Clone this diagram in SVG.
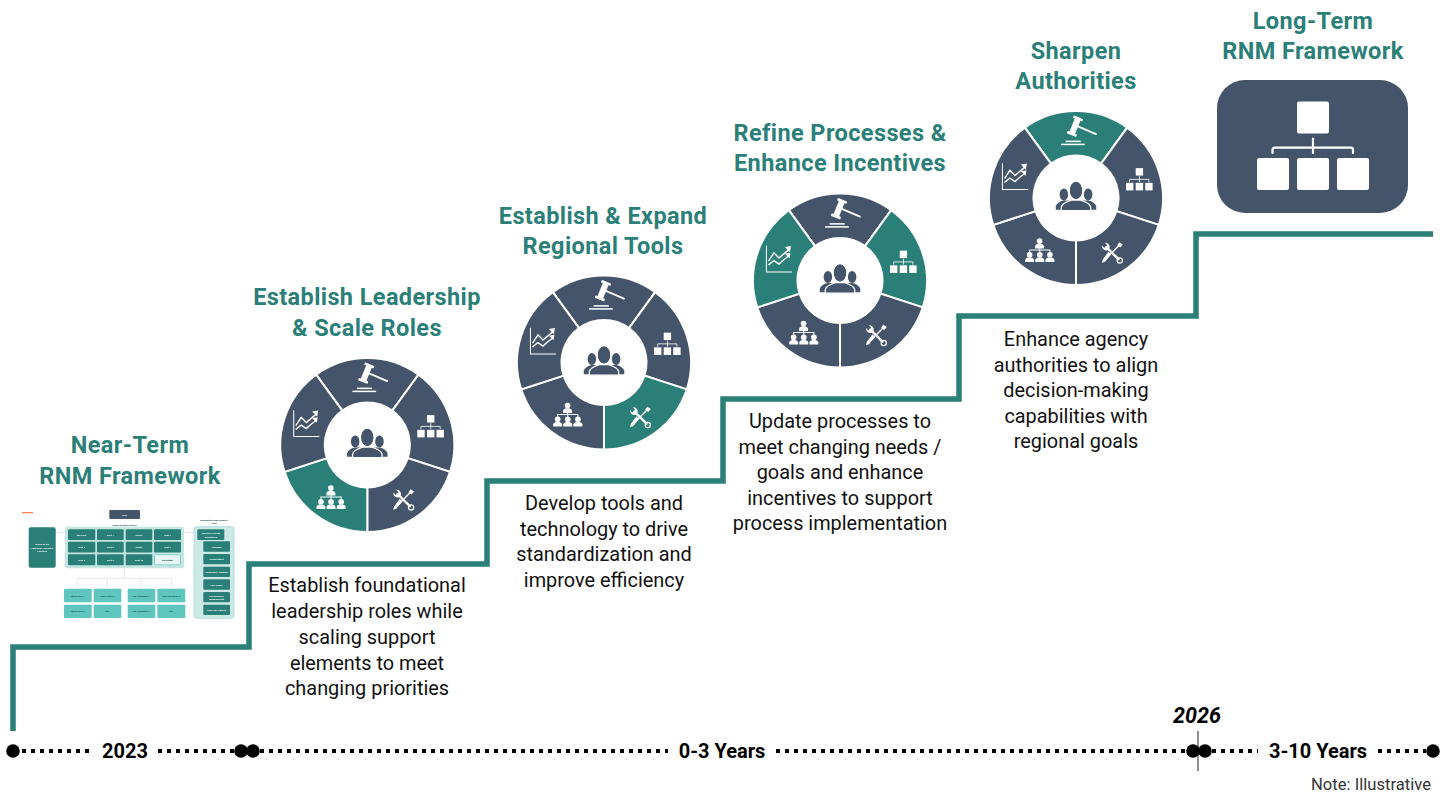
<svg xmlns="http://www.w3.org/2000/svg" xmlns:xlink="http://www.w3.org/1999/xlink" width="1449" height="793" viewBox="0 0 1449 793">
<style>
text{font-family:Roboto,"Liberation Sans",sans-serif;text-anchor:middle}
.title{font-size:23.5px;font-weight:700;fill:#2A7F78;letter-spacing:.4px}
.body{font-size:19.9px;fill:#111}
.time{font-size:20px;font-weight:700;fill:#000}
.navy{fill:#44546A}.teal{fill:#2A7F78}
.seg{stroke:#fff;stroke-width:2}
.dots{stroke:#000;stroke-width:4;stroke-dasharray:4 5;fill:none}
.ic{fill:#fff}.icl{stroke:#fff;fill:none;stroke-linecap:round}
.tc{fill:#2A7F78}.tb{fill:#5EC6BF}
.tt{font-size:2.5px;font-weight:700;fill:#fff}
.td{font-size:2.5px;font-weight:700;fill:#1f4a47}
.tl{stroke:#ddd;stroke-width:.7;fill:none}
</style>
<defs>
<filter id="soft" x="-5%" y="-5%" width="110%" height="110%"><feGaussianBlur stdDeviation="0.4"/></filter>
<path id="seg-top" class="seg" d="M-50.55-69.57A86 86 0 0 1 50.55-69.57L24.69-33.98A42 42 0 0 0-24.69-33.98Z"/>
<path id="seg-right" class="seg" d="M50.55-69.57A86 86 0 0 1 81.79 26.58L39.94 12.98A42 42 0 0 0 24.69-33.98Z"/>
<path id="seg-br" class="seg" d="M81.79 26.58A86 86 0 0 1 0 86L0 42A42 42 0 0 0 39.94 12.98Z"/>
<path id="seg-bl" class="seg" d="M0 86A86 86 0 0 1-81.79 26.58L-39.94 12.98A42 42 0 0 0 0 42Z"/>
<path id="seg-left" class="seg" d="M-81.79 26.58A86 86 0 0 1-50.55-69.57L-24.69-33.98A42 42 0 0 0-39.94 12.98Z"/>
<g id="person"><circle cx="0" cy="-3.2" r="2.8"/><path d="M-4.4 4V1.8Q-4.4 0-1.6-.6H1.6Q4.4 0 4.4 1.8V4Z"/></g>
<g id="wheel-icons">
<g transform="translate(-1,-71) rotate(22)" class="ic"><rect x="-3" y="-7.5" width="6" height="15"/><rect x="-5" y="-9.5" width="10" height="2.6" rx=".6"/><rect x="-5" y="6.9" width="10" height="2.6" rx=".6"/></g>
<path class="icl" stroke-width="1.9" d="M1.3-71 19.7-63.2"/>
<rect class="ic" x="-10.3" y="-56.7" width="15" height="1.5"/><rect class="ic" x="-14.7" y="-53.7" width="23.4" height="1.5"/>
<g class="ic"><rect x="59" y="-29.5" width="7.3" height="7.3"/><rect x="49.4" y="-15" width="7.3" height="7.5"/><rect x="59" y="-15" width="7.3" height="7.5"/><rect x="68.4" y="-15" width="7.3" height="7.5"/></g>
<path class="icl" stroke-width=".8" d="M53-16V-18.4H72V-16M62.7-21.5V-16"/>
<g transform="translate(35.5,54) scale(.86)">
<path class="icl" stroke-width="2.8" stroke-linecap="butt" d="M-6.5-6.5 7.5 7.5"/>
<path class="ic" d="M-11.5-8.2A5.4 5.4 0 0 0-5.5-2.5L-2.5-5.5A5.4 5.4 0 0 0-8.2-11.5L-5.6-8.8-6.2-6.2-8.8-5.6Z"/>
<circle cx="9" cy="9" r="3" fill="none" stroke="#fff" stroke-width="1.4"/>
<path class="icl" stroke-width="1.6" stroke-linecap="butt" d="M9-9-8.5 8.5"/>
<path class="ic" d="M6-8.5 8.5-12 12.5-9.5 9.5-6ZM-4-1-1 2-8 10.5-11.5 11.5-10.5 8Z"/>
</g>
<g class="ic"><use href="#person" x="-36" y="45.8"/><use href="#person" x="-45.8" y="59.3"/><use href="#person" x="-35.8" y="59.3"/><use href="#person" x="-25.8" y="59.3"/></g>
<path class="icl" stroke-width="1" d="M-45.8 54.5V51.5H-25.8V54.5M-35.8 49.5V54.5"/>
<path class="icl" stroke-width="1" stroke-linecap="butt" d="M-72.7-34V-8.4H-47.7"/>
<path class="icl" stroke-width="1.4" d="M-70.3-19.7-65.3-27.3-60.3-22.3-50.5-30.5M-70.3-15.7-65.3-19.7-60.3-16.3-55.3-20.7-51-24"/>
<path class="ic" d="M-54.5-33-48.5-34.2-49.5-28ZM-54.5-26.5-49-27.5-49.8-22Z"/>
<g class="navy"><ellipse cx="-12" cy="-3.5" rx="4.2" ry="6"/><ellipse cx="12" cy="-3.5" rx="4.2" ry="6"/>
<path d="M-20 11.5V8Q-19 4.5-12.5 2.5H-6V11.5ZM20 11.5V8Q19 4.5 12.5 2.5H6V11.5Z"/>
<g stroke="#fff" stroke-width="1.3"><ellipse cx="0" cy="-7.5" rx="6.6" ry="9"/><path d="M-14.5 12.5V9Q-14 5-4.5 2H4.5Q14 5 14.5 9V12.5Z"/></g><ellipse cx="0" cy="-7.5" rx="6" ry="8.4"/></g>
</g>
</defs>

<g id="connectors">
<path id="stair" fill="none" stroke="#2A7F78" stroke-width="5.5" d="M13 731V647H249V564H487V481H723V399H959V316H1196V234H1433"/>
<path class="dots" d="M22 751H92M158 751H236M260 751H668M776 751H1188M1212 751H1258M1378 751H1426"/>
<path d="M1198 731V771" stroke="#222" stroke-width="1" fill="none"/>
</g>

<g id="timeline">
<circle cx="13" cy="751" r="6.8"/><circle cx="241" cy="751" r="6.8"/><circle cx="253" cy="751" r="6.8"/><circle cx="1193" cy="751" r="6.8"/><circle cx="1205" cy="751" r="6.8"/><circle cx="1433" cy="751" r="6.8"/>
<text class="time" x="125" y="758">2023</text>
<text class="time" x="722" y="758">0-3 Years</text>
<text class="time" x="1318" y="758">3-10 Years</text>
<text x="1197" y="723" style="font-size:21.5px;font-weight:700;font-style:italic">2026</text>
<text x="1371" y="790" style="font-size:16.6px;fill:#333">Note: Illustrative</text>
</g>

<g id="near-term">
<text class="title" x="130" y="453">Near-Term</text><text class="title" x="130" y="484">RNM Framework</text>
<g filter="url(#soft)">
<rect x="22" y="512" width="11" height="1.2" fill="#F47B50"/>
<path class="tl" d="M55.7 532.5H65M184 532.5H194M124.3 568V578.3M77.7 588V578.3H171.7V588M107.3 578.3V588M141 578.3V588"/>
<rect x="109.3" y="510" width="30.7" height="9" rx="1.2" fill="#44546A"/><text class="tt" x="124.6" y="515.6">RPO</text>
<text class="td" x="124.5" y="526">RNM Executive Board</text>
<rect x="28.7" y="527.3" width="27" height="40.4" rx="2" class="tc"/>
<text class="tt" x="42.2" y="545">"Voice of the</text><text class="tt" x="42.2" y="548.5">Customer" Advisory</text><text class="tt" x="42.2" y="552">Function</text>
<rect x="65" y="526.7" width="119" height="41.6" rx="2" fill="#C5E5E2"/>
<g class="tc">
<rect x="68" y="529.3" width="27.3" height="10.7" rx="1"/><rect x="97" y="529.3" width="26.7" height="10.7" rx="1"/><rect x="125.7" y="529.3" width="26.6" height="10.7" rx="1"/><rect x="154" y="529.3" width="27" height="10.7" rx="1"/>
<rect x="68" y="541.7" width="27.3" height="10.7" rx="1"/><rect x="97" y="541.7" width="26.7" height="10.7" rx="1"/><rect x="125.7" y="541.7" width="26.6" height="10.7" rx="1"/><rect x="154" y="541.7" width="27" height="10.7" rx="1"/>
<rect x="68" y="554.3" width="27.3" height="11" rx="1"/><rect x="97" y="554.3" width="26.7" height="11" rx="1"/><rect x="125.7" y="554.3" width="26.6" height="11" rx="1"/>
</g>
<rect x="154.5" y="554.8" width="26" height="10" rx="1" fill="#E8F5F3" stroke="#5EC6BF" stroke-width=".7"/>
<text class="tt" x="81.6" y="535.5">DB Chair</text><text class="tt" x="110.3" y="535.5">Seat 1</text><text class="tt" x="139" y="535.5">Seat 2</text><text class="tt" x="167.5" y="535.5">Seat 3</text>
<text class="tt" x="81.6" y="548">Seat 4</text><text class="tt" x="110.3" y="548">Seat 5</text><text class="tt" x="139" y="548">Seat 6</text><text class="tt" x="167.5" y="548">Seat 7</text>
<text class="tt" x="81.6" y="560.5">Seat 8</text><text class="tt" x="110.3" y="560.5">Seat 9</text><text class="tt" x="139" y="560.5">Seat 10</text><text class="td" x="167.5" y="560.5">Facilitator</text>
<g class="tb">
<rect x="64" y="588.7" width="27.7" height="13.6" rx="1"/><rect x="93.7" y="588.7" width="27.6" height="13.6" rx="1"/><rect x="127.7" y="588.7" width="27.6" height="13.6" rx="1"/><rect x="157.3" y="588.7" width="28" height="13.6" rx="1"/>
<rect x="64" y="604.7" width="27.7" height="13.3" rx="1"/><rect x="93.7" y="604.7" width="27.6" height="13.3" rx="1"/><rect x="127.7" y="604.7" width="27.6" height="13.3" rx="1"/><rect x="157.3" y="604.7" width="28" height="13.3" rx="1"/>
</g>
<text class="td" x="77.8" y="596.5">Task Force 1</text><text class="td" x="107.5" y="596.5">Task Force 2</text><text class="td" x="141.5" y="596.5">Sub-Executive 1</text><text class="td" x="171.3" y="596.5">Sub-Executive 2</text>
<text class="td" x="77.8" y="612.3">Task Force 3</text><text class="td" x="107.5" y="612.3">Etc.</text><text class="td" x="141.5" y="612.3">Sub-Executive 3</text><text class="td" x="171.3" y="612.3">Etc.</text>
<text class="td" x="214" y="520.5">Dedicated RNM Support</text><text class="td" x="214" y="524">Staff</text>
<rect x="194" y="526.7" width="40" height="91.6" rx="3" fill="#CDE9E6" stroke="#9AD6D1" stroke-width=".7"/>
<g class="tc"><rect x="197.3" y="529.3" width="27" height="10.7" rx="1"/><rect x="203.3" y="541.3" width="26.7" height="10.4" rx="1"/><rect x="203.3" y="554" width="26.7" height="10.3" rx="1"/><rect x="203.3" y="566.7" width="26.7" height="10.3" rx="1"/><rect x="203.3" y="579.3" width="26.7" height="10.4" rx="1"/><rect x="203.3" y="592" width="26.7" height="10.3" rx="1"/><rect x="203.3" y="604.7" width="26.7" height="10.3" rx="1"/></g>
<text class="tt" x="210.8" y="534">Director of RNM</text><text class="tt" x="210.8" y="537.5">Operations</text>
<text class="tt" x="216.6" y="547.5">Planning</text><text class="tt" x="216.6" y="560">Engagement</text><text class="tt" x="216.6" y="572.8">Financials / Funding</text><text class="tt" x="216.6" y="585.5">Fare Policy</text>
<text class="tt" x="216.6" y="596.5">Performance</text><text class="tt" x="216.6" y="600">Management</text><text class="tt" x="216.6" y="610.8">Land Use Liaison</text>
</g>
</g>

<g id="step-leadership">
<text class="title" x="367" y="305">Establish Leadership</text><text class="title" x="367" y="336">&amp; Scale Roles</text>
<g transform="translate(367.3,445) scale(1.012)"><use href="#seg-top" class="navy"/><use href="#seg-right" class="navy"/><use href="#seg-br" class="navy"/><use href="#seg-bl" class="teal"/><use href="#seg-left" class="navy"/><use href="#wheel-icons"/></g>
<text class="body" x="367" y="592">Establish foundational</text><text class="body" x="367" y="618">leadership roles while</text><text class="body" x="367" y="644">scaling support</text><text class="body" x="367" y="670">elements to meet</text><text class="body" x="367" y="695">changing priorities</text>
</g>

<g id="step-tools">
<text class="title" x="603" y="224">Establish &amp; Expand</text><text class="title" x="603" y="254">Regional Tools</text>
<g transform="translate(604,362.5) scale(1.012)"><use href="#seg-top" class="navy"/><use href="#seg-right" class="navy"/><use href="#seg-br" class="teal"/><use href="#seg-bl" class="navy"/><use href="#seg-left" class="navy"/><use href="#wheel-icons"/></g>
<text class="body" x="604" y="510">Develop tools and</text><text class="body" x="604" y="536">technology to drive</text><text class="body" x="604" y="561">standardization and</text><text class="body" x="604" y="587">improve efficiency</text>
</g>

<g id="step-processes">
<text class="title" x="840" y="141">Refine Processes &amp;</text><text class="title" x="840" y="171">Enhance Incentives</text>
<g transform="translate(840,280.5) scale(1.012)"><use href="#seg-top" class="navy"/><use href="#seg-right" class="teal"/><use href="#seg-br" class="navy"/><use href="#seg-bl" class="navy"/><use href="#seg-left" class="teal"/><use href="#wheel-icons"/></g>
<text class="body" x="840" y="428">Update processes to</text><text class="body" x="840" y="454">meet changing needs /</text><text class="body" x="840" y="479">goals and enhance</text><text class="body" x="840" y="505">incentives to support</text><text class="body" x="840" y="530">process implementation</text>
</g>

<g id="step-authorities">
<text class="title" x="1076" y="59">Sharpen</text><text class="title" x="1076" y="89">Authorities</text>
<g transform="translate(1076,198) scale(1.012)"><use href="#seg-top" class="teal"/><use href="#seg-right" class="navy"/><use href="#seg-br" class="navy"/><use href="#seg-bl" class="navy"/><use href="#seg-left" class="navy"/><use href="#wheel-icons"/></g>
<text class="body" x="1076" y="346">Enhance agency</text><text class="body" x="1076" y="372">authorities to align</text><text class="body" x="1076" y="397">decision-making</text><text class="body" x="1076" y="423">capabilities with</text><text class="body" x="1076" y="448">regional goals</text>
</g>

<g id="long-term">
<text class="title" x="1313" y="29">Long-Term</text><text class="title" x="1313" y="59">RNM Framework</text>
<rect x="1217" y="80" width="191" height="133" rx="28" class="navy"/>
<g class="ic"><rect x="1297" y="101.5" width="32" height="32" rx="2"/><rect x="1257" y="158" width="32" height="32" rx="2"/><rect x="1297" y="158" width="32" height="32" rx="2"/><rect x="1337" y="158" width="32" height="32" rx="2"/></g>
<path class="icl" stroke-width="2.2" d="M1272.5 153V150Q1272.5 147.7 1275 147.7H1351Q1353 147.7 1353 150V153M1313 138.5V153"/>
</g>
</svg>
